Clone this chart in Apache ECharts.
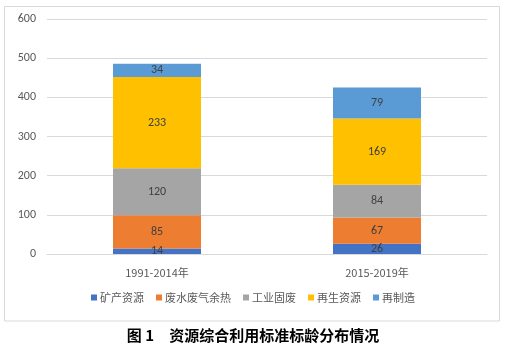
<!DOCTYPE html>
<html><head><meta charset="utf-8">
<script src="https://cdn.jsdelivr.net/npm/echarts@6/dist/echarts.min.js"></script>
<style>html,body{margin:0;padding:0;background:#fff}#c{width:506px;height:346px}</style>
</head><body><div id="c"></div>
<script>
const categories = ['1991-2014年', '2015-2019年'];
const seriesNames = ['矿产资源', '废水废气余热', '工业固废', '再生资源', '再制造'];
const kuangchan = [14, 26];
const feishui = [85, 67];
const gongye = [120, 84];
const zaisheng = [233, 169];
const zaizhizao = [34, 79];
const yTicks = [0, 100, 200, 300, 400, 500, 600];
const colors = ['#4472C4', '#ED7D31', '#A5A5A5', '#FFC000', '#5B9BD5'];
const values = [kuangchan, feishui, gongye, zaisheng, zaizhizao];

const chart = echarts.init(document.getElementById('c'), null, {renderer: 'canvas'});
const font = 'Calibri, "Liberation Sans", "Noto Sans CJK SC", sans-serif';
chart.setOption({
  animation: false,
  textStyle: {fontFamily: font},
  graphic: [
    {type: 'rect', shape: {x: 4.5, y: 6.5, width: 495, height: 314.5},
     style: {fill: 'none', stroke: '#d9d9d9', lineWidth: 1}, z: -1},
    {type: 'text', left: 'center', top: 328,
     style: {text: '图 1　资源综合利用标准标龄分布情况', fill: '#000',
       font: 'bold 15px "Noto Sans CJK SC", sans-serif'}}
  ],
  grid: {left: 47, right: 19, top: 19, bottom: 92, containLabel: false},
  legend: {
    bottom: 38, left: 'center', itemWidth: 6, itemHeight: 6, itemGap: 12,
    icon: 'rect',
    textStyle: {color: '#595959', fontSize: 11, fontFamily: '"Noto Sans CJK SC", sans-serif', padding: [0,0,0,-2]},
    data: seriesNames
  },
  xAxis: {
    type: 'category', data: categories,
    axisLine: {lineStyle: {color: '#d9d9d9'}},
    axisTick: {show: false},
    axisLabel: {color: '#595959', fontSize: 11, margin: 13, fontFamily: '"Noto Sans CJK SC", sans-serif'}
  },
  yAxis: {
    type: 'value', min: yTicks[0], max: yTicks[yTicks.length - 1], interval: 100,
    axisLine: {show: false}, axisTick: {show: false},
    splitLine: {lineStyle: {color: '#d9d9d9'}},
    axisLabel: {color: '#595959', fontSize: 12, margin: 11}
  },
  series: seriesNames.map((n, i) => ({
    name: n, type: 'bar', stack: 'total', barWidth: '40%',
    data: values[i],
    itemStyle: {color: colors[i]},
    label: {show: true, position: 'inside', color: '#404040', fontSize: 12}
  }))
});
</script></body></html>
